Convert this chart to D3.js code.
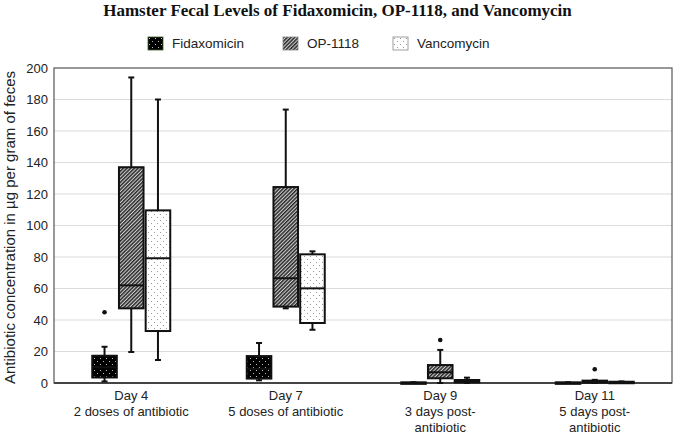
<!DOCTYPE html>
<html>
<head>
<meta charset="utf-8">
<script src="https://cdn.jsdelivr.net/npm/d3@7"></script>
<style>
  body { margin: 0; background: #fff; }
  svg { display: block; }
</style>
</head>
<body>
<div id="chart"></div>
<script>
// Category labels (multi-line)
const days = ["Day 4", "Day 7", "Day 9", "Day 11"];
const dayLabels = [
  ["Day 4", "2 doses of antibiotic"],
  ["Day 7", "5 doses of antibiotic"],
  ["Day 9", "3 days post-", "antibiotic"],
  ["Day 11", "5 days post-", "antibiotic"]
];
const seriesNames = ["Fidaxomicin", "OP-1118", "Vancomycin"];

// Box stats per day: [min, q1, median, q3, max]
const fidaxomicin = [
  [1, 3.5, 10, 17.3, 23],
  [1.7, 2.8, 9, 17.1, 25.4],
  [0, 0, 0.1, 0.4, 0.5],
  [0, 0, 0.1, 0.4, 0.5]
];
const op1118 = [
  [19.7, 47.4, 62, 137, 194],
  [47.4, 48.5, 66.5, 124.4, 173.6],
  [0, 3, 6.8, 11.4, 21],
  [0, 0.2, 0.8, 1.5, 2]
];
const vancomycin = [
  [14.6, 33, 79.2, 109.6, 180],
  [33.8, 38.1, 60.1, 81.7, 83.6],
  [0, 0.4, 1, 1.9, 3.4],
  [0, 0, 0.3, 0.8, 1]
];
// Outliers: [dayIndex, seriesIndex, value]
const outliers = [
  [0, 0, 44.9],
  [2, 1, 27.3],
  [3, 1, 8.7]
];
const yTicks = [0, 20, 40, 60, 80, 100, 120, 140, 160, 180, 200];

const width = 675, height = 443;
const marginLeft = 54, marginRight = 3, marginTop = 68, marginBottom = 60;

const svg = d3.select("#chart").append("svg")
  .attr("width", width)
  .attr("height", height)
  .attr("font-family", "Arial, 'Liberation Sans', sans-serif");

// patterns
const defs = svg.append("defs");
const pFid = defs.append("pattern").attr("id", "pat-fid")
  .attr("patternUnits", "userSpaceOnUse").attr("width", 6).attr("height", 6);
pFid.append("rect").attr("width", 6).attr("height", 6).attr("fill", "#000");
pFid.append("rect").attr("x", 1).attr("y", 1).attr("width", 1).attr("height", 1).attr("fill", "#bbb");
pFid.append("rect").attr("x", 4).attr("y", 4).attr("width", 1).attr("height", 1).attr("fill", "#bbb");

const pOp = defs.append("pattern").attr("id", "pat-op")
  .attr("patternUnits", "userSpaceOnUse").attr("width", 2.6).attr("height", 2.6)
  .attr("patternTransform", "rotate(45)");
pOp.append("rect").attr("width", 2.6).attr("height", 2.6).attr("fill", "#cfcfcf");
pOp.append("rect").attr("width", 1.5).attr("height", 2.6).attr("fill", "#2a2a2a");

const pVan = defs.append("pattern").attr("id", "pat-van")
  .attr("patternUnits", "userSpaceOnUse").attr("width", 6).attr("height", 6);
pVan.append("rect").attr("width", 6).attr("height", 6).attr("fill", "#fff");
pVan.append("rect").attr("x", 1).attr("y", 1).attr("width", 1).attr("height", 1).attr("fill", "#999");
pVan.append("rect").attr("x", 4).attr("y", 4).attr("width", 1).attr("height", 1).attr("fill", "#999");

const fills = ["url(#pat-fid)", "url(#pat-op)", "url(#pat-van)"];

// scales
const x = d3.scaleBand().domain(days).range([marginLeft, width - marginRight]);
const inner = d3.scaleBand().domain(seriesNames).range([-39, 39]).paddingInner(0.08);
const y = d3.scaleLinear().domain([0, 200]).range([height - marginBottom, marginTop]);

// title
svg.append("text")
  .attr("x", width / 2).attr("y", 16)
  .attr("text-anchor", "middle")
  .attr("font-family", "'Liberation Serif', 'Times New Roman', serif")
  .attr("font-weight", "bold")
  .attr("font-size", 17)
  .attr("fill", "#111")
  .text("Hamster Fecal Levels of Fidaxomicin, OP-1118, and Vancomycin");

// legend
const legendX = [148, 283, 393];
const legend = svg.append("g").selectAll("g")
  .data(seriesNames)
  .join("g")
  .attr("transform", (d, i) => `translate(${legendX[i]},37)`);
legend.append("rect")
  .attr("width", 15).attr("height", 13)
  .attr("fill", (d, i) => fills[i])
  .attr("stroke", (d, i) => i === 0 ? "#3a5a2a" : "#888")
  .attr("stroke-width", 0.8);
legend.append("text")
  .attr("x", 24).attr("y", 11)
  .attr("font-size", 13.5)
  .attr("fill", "#222")
  .text(d => d);

// gridlines
svg.append("g")
  .selectAll("line")
  .data(yTicks.filter(t => t > 0 && t < 200))
  .join("line")
  .attr("x1", marginLeft).attr("x2", width - marginRight)
  .attr("y1", d => y(d)).attr("y2", d => y(d))
  .attr("stroke", "#dcdcdc").attr("stroke-width", 1.2);

// y axis
svg.append("g")
  .attr("transform", `translate(${marginLeft},0)`)
  .call(d3.axisLeft(y).tickValues(yTicks).tickSize(0).tickPadding(6))
  .call(g => g.select(".domain").remove())
  .call(g => g.selectAll(".tick text")
    .attr("font-size", 13)
    .attr("font-family", "Arial, 'Liberation Sans', sans-serif")
    .attr("fill", "#222"));

// plot frame
svg.append("rect")
  .attr("x", marginLeft).attr("y", marginTop)
  .attr("width", width - marginRight - marginLeft)
  .attr("height", y(0) - marginTop)
  .attr("fill", "none")
  .attr("stroke", "#555").attr("stroke-width", 1.2);
svg.append("line")
  .attr("x1", marginLeft).attr("x2", width - marginRight)
  .attr("y1", y(0)).attr("y2", y(0))
  .attr("stroke", "#444").attr("stroke-width", 1.8);

// y axis title
svg.append("text")
  .attr("transform", `translate(15,${(marginTop + y(0)) / 2 + 2}) rotate(-90)`)
  .attr("text-anchor", "middle")
  .attr("font-size", 15)
  .attr("fill", "#222")
  .text("Antibiotic concentration in µg per gram of feces");

// x labels
const xl = svg.append("g").selectAll("text")
  .data(dayLabels)
  .join("text")
  .attr("text-anchor", "middle")
  .attr("font-size", 13)
  .attr("fill", "#222")
  .attr("transform", (d, i) => `translate(${x(days[i]) + x.bandwidth() / 2},${y(0) + 17})`);
xl.selectAll("tspan")
  .data(d => d)
  .join("tspan")
  .attr("x", 0)
  .attr("dy", (d, i) => i === 0 ? 0 : 16)
  .text(d => d);

// boxes
const allSeries = [fidaxomicin, op1118, vancomycin];
const boxData = [];
allSeries.forEach((s, si) => s.forEach((st, di) => boxData.push({ si, di, st })));
const bw = inner.bandwidth();
const cx = d => x(days[d.di]) + x.bandwidth() / 2 + inner(seriesNames[d.si]) + bw / 2;

const boxes = svg.append("g").selectAll("g")
  .data(boxData)
  .join("g");

// whiskers
boxes.append("line")
  .attr("x1", cx).attr("x2", cx)
  .attr("y1", d => y(d.st[4])).attr("y2", d => y(d.st[0]))
  .attr("stroke", "#111").attr("stroke-width", 2);
boxes.append("line")
  .attr("x1", d => cx(d) - 3).attr("x2", d => cx(d) + 3)
  .attr("y1", d => y(d.st[4])).attr("y2", d => y(d.st[4]))
  .attr("stroke", "#111").attr("stroke-width", 2);
boxes.append("line")
  .attr("x1", d => cx(d) - 3).attr("x2", d => cx(d) + 3)
  .attr("y1", d => y(d.st[0])).attr("y2", d => y(d.st[0]))
  .attr("stroke", "#111").attr("stroke-width", 2);

// box body
boxes.append("rect")
  .attr("x", d => cx(d) - bw / 2)
  .attr("width", bw)
  .attr("y", d => y(d.st[3]))
  .attr("height", d => Math.max(1.5, y(d.st[1]) - y(d.st[3])))
  .attr("fill", d => fills[d.si])
  .attr("stroke", "#111").attr("stroke-width", 2);

// median
boxes.append("line")
  .attr("x1", d => cx(d) - bw / 2).attr("x2", d => cx(d) + bw / 2)
  .attr("y1", d => y(d.st[2])).attr("y2", d => y(d.st[2]))
  .attr("stroke", "#111").attr("stroke-width", 2);

// outliers
svg.append("g").selectAll("circle")
  .data(outliers)
  .join("circle")
  .attr("cx", d => cx({ di: d[0], si: d[1] }))
  .attr("cy", d => y(d[2]))
  .attr("r", 2.3)
  .attr("fill", "#111");
</script>
</body>
</html>
